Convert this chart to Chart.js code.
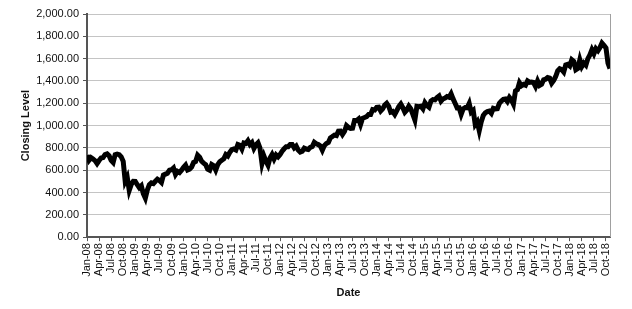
<!DOCTYPE html>
<html>
<head>
<meta charset="utf-8">
<script src="https://cdn.jsdelivr.net/npm/chart.js@4/dist/chart.umd.min.js"></script>
<style>
  html, body { margin: 0; padding: 0; background: #fff; }
  #wrap { width: 632px; height: 309px; }
</style>
</head>
<body>
<div id="wrap"><canvas id="closing-chart"></canvas></div>
<script>
// Closing level, read twice a month (start of month, mid month), Jan-08 .. Oct-18 //

const close2008 = [735, 690, 713, 700, 686, 660, 687, 710, 714, 740, 747, 730, 689, 670, 739, 745, 740, 720, 680, 500, 537, 420, 473, 500];
const close2009 = [499, 470, 443, 460, 389, 350, 423, 470, 487, 480, 501, 520, 508, 490, 557, 565, 573, 600, 604, 620, 562, 590, 579, 600];
const close2010 = [625, 645, 602, 610, 628, 670, 679, 735, 717, 680, 663, 650, 610, 600, 651, 640, 602, 650, 676, 690, 703, 740, 727, 760];
const close2011 = [784, 790, 781, 830, 823, 790, 844, 840, 865, 830, 848, 795, 827, 845, 797, 660, 726, 680, 644, 710, 741, 700, 737, 720];
const close2012 = [741, 770, 792, 810, 810, 830, 830, 800, 816, 780, 762, 770, 798, 790, 786, 805, 812, 850, 837, 830, 818, 780, 821, 840];
const close2013 = [849, 890, 902, 915, 911, 950, 951, 920, 947, 1000, 984, 975, 977, 1045, 1045, 1060, 1010, 1065, 1073, 1080, 1100, 1100, 1143, 1140];
const close2014 = [1163, 1165, 1131, 1150, 1183, 1200, 1173, 1120, 1126, 1100, 1134, 1170, 1193, 1160, 1120, 1140, 1174, 1150, 1101, 1050, 1173, 1170, 1173, 1150];
const close2015 = [1205, 1180, 1165, 1220, 1233, 1230, 1252, 1265, 1220, 1240, 1247, 1260, 1254, 1285, 1239, 1200, 1159, 1160, 1101, 1150, 1162, 1160, 1199, 1120];
const close2016 = [1136, 1010, 1035, 955, 1034, 1090, 1114, 1125, 1130, 1110, 1155, 1150, 1152, 1200, 1220, 1235, 1239, 1215, 1252, 1230, 1192, 1310, 1322, 1385];
const close2017 = [1357, 1370, 1362, 1400, 1387, 1390, 1386, 1350, 1400, 1360, 1370, 1410, 1415, 1430, 1425, 1380, 1405, 1440, 1490, 1510, 1502, 1480, 1544, 1550];
const close2018 = [1535, 1590, 1575, 1500, 1512, 1590, 1529, 1560, 1541, 1600, 1634, 1680, 1643, 1690, 1671, 1700, 1740, 1720, 1696, 1560, 1511];

const tickLabels = [
  "Jan-08", "Apr-08", "Jul-08", "Oct-08", "Jan-09", "Apr-09", "Jul-09", "Oct-09",
  "Jan-10", "Apr-10", "Jul-10", "Oct-10", "Jan-11", "Apr-11", "Jul-11", "Oct-11",
  "Jan-12", "Apr-12", "Jul-12", "Oct-12", "Jan-13", "Apr-13", "Jul-13", "Oct-13",
  "Jan-14", "Apr-14", "Jul-14", "Oct-14", "Jan-15", "Apr-15", "Jul-15", "Oct-15",
  "Jan-16", "Apr-16", "Jul-16", "Oct-16", "Jan-17", "Apr-17", "Jul-17", "Oct-17",
  "Jan-18", "Apr-18", "Jul-18", "Oct-18"
];

const closing = [].concat(close2008, close2009, close2010, close2011, close2012, close2013,
  close2014, close2015, close2016, close2017, close2018);

// x is months since Jan-08, each reading half a month apart
const points = closing.map((v, i) => ({ x: i * 0.5, y: v }));

const plotBorder = {
  id: 'plotBorder',
  afterDraw(chart) {
    const { ctx, chartArea } = chart;
    ctx.save();
    ctx.strokeStyle = '#a0a0a0';
    ctx.lineWidth = 1;
    ctx.beginPath();
    ctx.moveTo(chartArea.right + 0.5, chartArea.top);
    ctx.lineTo(chartArea.right + 0.5, chartArea.bottom);
    ctx.stroke();
    ctx.restore();
  }
};

Chart.defaults.font.family = '"Liberation Sans", Arial, sans-serif';
Chart.defaults.font.size = 11;
Chart.defaults.color = '#111';

const closingChart = new Chart(document.querySelector('#closing-chart'), {
  type: 'line',
  data: {
    datasets: [{
      data: points,
      borderColor: '#000',
      borderWidth: 5,
      pointRadius: 0,
      tension: 0,
      fill: false
    }]
  },
  options: {
    responsive: true,
    maintainAspectRatio: false,
    animation: false,
    layout: { padding: { top: 14, right: 22, left: 0, bottom: 9 } },
    plugins: {
      legend: { display: false },
      tooltip: { enabled: false }
    },
    scales: {
      x: {
        type: 'linear',
        min: 0,
        max: 130,
        afterBuildTicks: axis => {
          axis.ticks = tickLabels.map((_, i) => ({ value: i * 3 }));
        },
        ticks: {
          autoSkip: false,
          maxRotation: 90,
          minRotation: 90,
          padding: 2,
          callback: v => tickLabels[Math.round(v / 3)]
        },
        grid: {
          drawOnChartArea: false,
          tickLength: 4,
          tickColor: '#555'
        },
        border: { color: '#555', width: 2 },
        title: {
          display: true,
          text: 'Date',
          font: { weight: 'bold', size: 11 },
          padding: { top: 8, bottom: 0 }
        }
      },
      y: {
        min: 0,
        max: 2000,
        ticks: {
          stepSize: 200,
          padding: 4,
          callback: v => v.toLocaleString('en-US', { minimumFractionDigits: 2, maximumFractionDigits: 2 })
        },
        grid: {
          color: '#c4c4c4',
          tickLength: 4,
          tickColor: '#555'
        },
        border: { color: '#555', width: 2 },
        title: {
          display: true,
          text: 'Closing Level',
          font: { weight: 'bold', size: 11 },
          padding: { top: 19, bottom: 0 }
        },
        afterFit: scale => { scale.width = 87; }
      }
    }
  },
  plugins: [plotBorder]
});
</script>
</body>
</html>
